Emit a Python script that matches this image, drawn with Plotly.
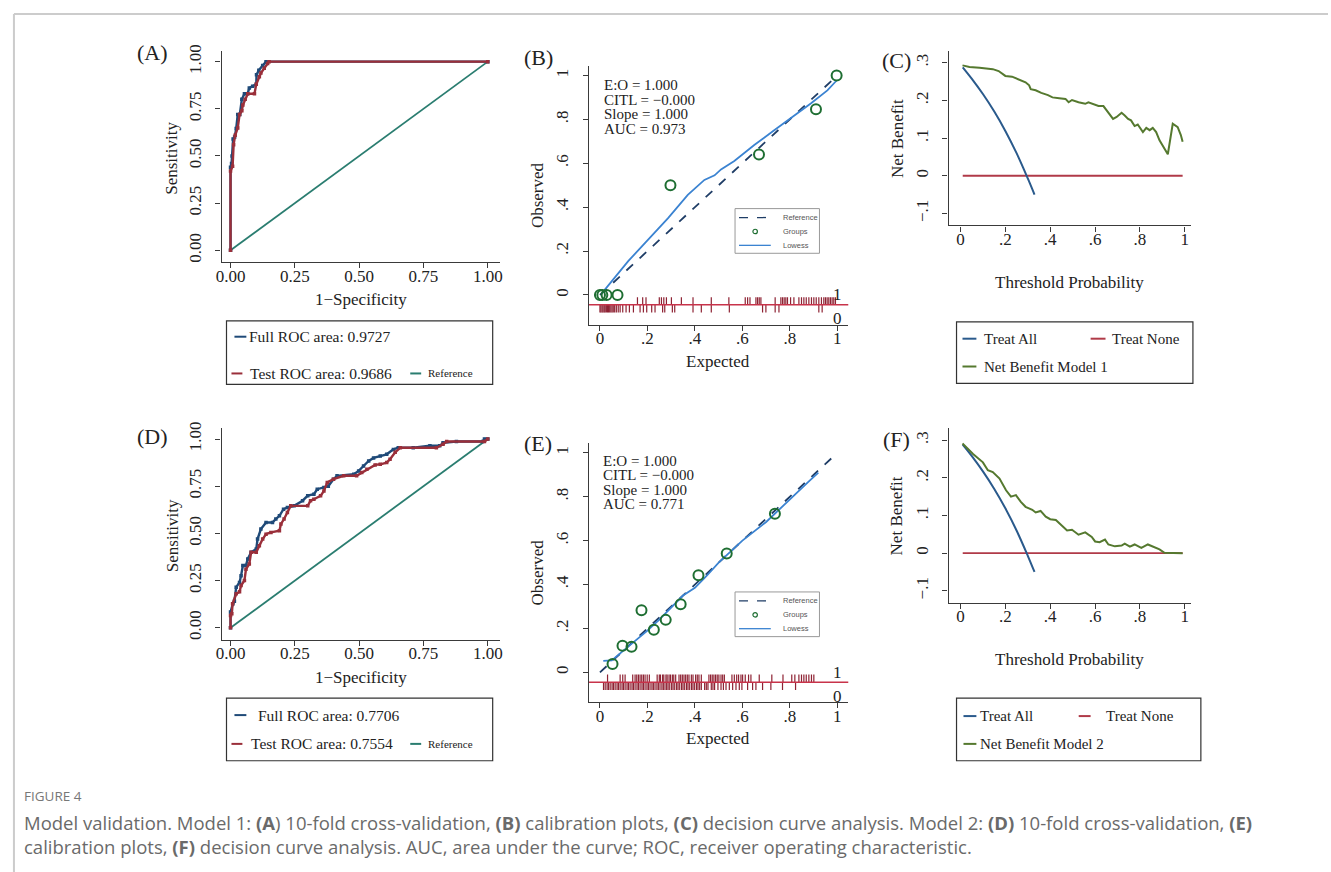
import plotly.graph_objects as go

W, H = 1331, 872
SERIF = "Liberation Serif, Times New Roman, serif"
SANS = "Liberation Sans, Arial, sans-serif"
AX = "#3a3a3a"

# ---------------- DATA ----------------
# (A) ROC model 1
roc1_full_fpr = [0, 0, 0.004, 0.006, 0.01, 0.016, 0.022, 0.028, 0.036, 0.044, 0.054, 0.066, 0.073, 0.086, 0.10, 0.101, 0.11, 0.125, 0.138, 1.0]
roc1_full_tpr = [0, 0.44, 0.46, 0.50, 0.59, 0.60, 0.645, 0.72, 0.72, 0.80, 0.83, 0.83, 0.86, 0.87, 0.88, 0.93, 0.955, 0.98, 1.0, 1.0]
roc1_test_fpr = [0, 0, 0.008, 0.012, 0.018, 0.028, 0.035, 0.044, 0.048, 0.057, 0.067, 0.093, 0.10, 0.112, 0.118, 0.131, 0.144, 0.15, 1.0]
roc1_test_tpr = [0, 0.42, 0.445, 0.56, 0.61, 0.648, 0.72, 0.74, 0.77, 0.80, 0.83, 0.83, 0.88, 0.92, 0.94, 0.965, 0.99, 1.0, 1.0]
# (D) ROC model 2
roc2_full_fpr = [0, 0, 0.009, 0.015, 0.022, 0.035, 0.041, 0.048, 0.06, 0.067, 0.08, 0.10, 0.105, 0.118, 0.138, 0.163, 0.176, 0.19, 0.206, 0.221, 0.247, 0.28, 0.30, 0.324, 0.337, 0.363, 0.38, 0.40, 0.414, 0.479, 0.498, 0.517, 0.537, 0.556, 0.582, 0.607, 0.633, 0.652, 0.71, 0.775, 0.813, 0.826, 0.878, 0.98, 0.987, 1.0]
roc2_full_tpr = [0, 0.083, 0.127, 0.14, 0.215, 0.24, 0.276, 0.33, 0.33, 0.364, 0.40, 0.417, 0.47, 0.523, 0.558, 0.558, 0.576, 0.593, 0.628, 0.637, 0.646, 0.673, 0.70, 0.708, 0.734, 0.743, 0.75, 0.787, 0.805, 0.813, 0.831, 0.857, 0.884, 0.90, 0.91, 0.919, 0.945, 0.954, 0.954, 0.964, 0.964, 0.98, 0.987, 0.987, 1.0, 1.0]
roc2_test_fpr = [0, 0, 0.005, 0.008, 0.022, 0.035, 0.041, 0.054, 0.06, 0.073, 0.08, 0.10, 0.112, 0.125, 0.138, 0.157, 0.19, 0.196, 0.208, 0.221, 0.234, 0.30, 0.311, 0.324, 0.35, 0.363, 0.376, 0.40, 0.44, 0.49, 0.51, 0.53, 0.562, 0.582, 0.607, 0.62, 0.64, 0.66, 0.80, 0.826, 0.84, 0.987, 1.0]
roc2_test_tpr = [0, 0.065, 0.074, 0.127, 0.18, 0.19, 0.224, 0.25, 0.31, 0.338, 0.40, 0.40, 0.435, 0.47, 0.496, 0.505, 0.514, 0.55, 0.576, 0.611, 0.646, 0.646, 0.673, 0.681, 0.699, 0.725, 0.77, 0.787, 0.805, 0.805, 0.822, 0.84, 0.863, 0.866, 0.875, 0.893, 0.93, 0.954, 0.954, 0.972, 0.987, 0.987, 1.0]
roc_ref = [0, 1]

# (B) calibration model 1
cal1_grp_x = [0.0, 0.01, 0.028, 0.074, 0.297, 0.67, 0.91, 0.997]
cal1_grp_y = [0.0, 0.0, 0.0, 0.0, 0.50, 0.64, 0.846, 1.0]
cal1_low_x = [0.007, 0.049, 0.119, 0.203, 0.287, 0.37, 0.44, 0.483, 0.51, 0.566, 0.65, 0.734, 0.804, 0.888, 0.958, 0.997]
cal1_low_y = [0.006, 0.063, 0.154, 0.252, 0.35, 0.456, 0.524, 0.545, 0.572, 0.610, 0.683, 0.750, 0.804, 0.872, 0.932, 0.977]
cal1_rug1 = [0.158, 0.180, 0.194, 0.250, 0.259, 0.269, 0.280, 0.301, 0.343, 0.392, 0.469, 0.543, 0.612, 0.622, 0.632, 0.657, 0.664, 0.671, 0.678, 0.738, 0.762, 0.769, 0.776, 0.783, 0.790, 0.803, 0.817, 0.838, 0.849, 0.859, 0.869, 0.880, 0.891, 0.901, 0.911, 0.922, 0.933, 0.943, 0.950, 0.957, 0.964, 0.971, 0.978, 0.985, 0.992]
cal1_rug0 = [0.0, 0.004, 0.009, 0.013, 0.018, 0.022, 0.027, 0.032, 0.036, 0.041, 0.046, 0.051, 0.056, 0.062, 0.069, 0.077, 0.085, 0.096, 0.110, 0.124, 0.141, 0.169, 0.183, 0.197, 0.218, 0.232, 0.264, 0.273, 0.305, 0.315, 0.392, 0.427, 0.469, 0.545, 0.685, 0.699, 0.738, 0.754, 0.922, 0.936]

# (E) calibration model 2
cal2_grp_x = [0.053, 0.095, 0.133, 0.175, 0.227, 0.277, 0.34, 0.415, 0.534, 0.737]
cal2_grp_y = [0.038, 0.121, 0.117, 0.283, 0.194, 0.239, 0.31, 0.442, 0.541, 0.723]
cal2_low_x = [0.014, 0.05, 0.10, 0.15, 0.20, 0.25, 0.30, 0.35, 0.40, 0.45, 0.50, 0.60, 0.70, 0.80, 0.88, 0.92]
cal2_low_y = [0.052, 0.054, 0.10, 0.145, 0.19, 0.24, 0.295, 0.35, 0.385, 0.44, 0.50, 0.60, 0.685, 0.79, 0.87, 0.91]
cal2_rug1 = [0.032, 0.085, 0.096, 0.106, 0.138, 0.148, 0.155, 0.162, 0.169, 0.176, 0.183, 0.190, 0.199, 0.208, 0.241, 0.250, 0.255, 0.264, 0.269, 0.278, 0.283, 0.291, 0.297, 0.305, 0.311, 0.319, 0.333, 0.340, 0.347, 0.354, 0.361, 0.368, 0.375, 0.385, 0.392, 0.403, 0.410, 0.417, 0.427, 0.459, 0.466, 0.473, 0.480, 0.487, 0.494, 0.501, 0.510, 0.517, 0.524, 0.556, 0.566, 0.576, 0.584, 0.594, 0.601, 0.612, 0.626, 0.636, 0.671, 0.724, 0.771, 0.808, 0.821, 0.838, 0.849, 0.859, 0.869, 0.880, 0.891, 0.901]
cal2_rug0 = [0.015, 0.022, 0.030, 0.036, 0.043, 0.051, 0.057, 0.064, 0.072, 0.078, 0.085, 0.093, 0.099, 0.106, 0.114, 0.120, 0.127, 0.135, 0.141, 0.148, 0.156, 0.162, 0.169, 0.177, 0.183, 0.190, 0.198, 0.204, 0.211, 0.219, 0.225, 0.232, 0.240, 0.246, 0.253, 0.261, 0.267, 0.274, 0.281, 0.287, 0.294, 0.302, 0.308, 0.315, 0.323, 0.329, 0.336, 0.344, 0.350, 0.357, 0.365, 0.371, 0.378, 0.386, 0.392, 0.399, 0.407, 0.413, 0.420, 0.427, 0.441, 0.448, 0.455, 0.469, 0.476, 0.483, 0.497, 0.510, 0.520, 0.531, 0.545, 0.559, 0.573, 0.587, 0.598, 0.622, 0.643, 0.657, 0.685, 0.720, 0.769, 0.824]

# (C)/(F) decision curves
dca_all_x = [0.01, 0.05, 0.10, 0.15, 0.20, 0.25, 0.30, 0.33]
dca_all_y = [0.288, 0.258, 0.217, 0.171, 0.119, 0.060, -0.007, -0.050]
dca_none_x = [0.01, 0.99]
dca_none_y = [0.0, 0.0]
nb1_x = [0.009, 0.04, 0.085, 0.144, 0.17, 0.20, 0.23, 0.26, 0.29, 0.306, 0.313, 0.335, 0.36, 0.39, 0.41, 0.44, 0.468, 0.482, 0.497, 0.526, 0.556, 0.57, 0.585, 0.615, 0.637, 0.659, 0.68, 0.696, 0.718, 0.732, 0.747, 0.76, 0.776, 0.79, 0.813, 0.828, 0.843, 0.857, 0.872, 0.887, 0.90, 0.924, 0.946, 0.968, 0.982, 0.99]
nb1_y = [0.293, 0.289, 0.287, 0.283, 0.278, 0.265, 0.263, 0.256, 0.248, 0.240, 0.230, 0.227, 0.220, 0.214, 0.208, 0.206, 0.204, 0.195, 0.201, 0.195, 0.191, 0.195, 0.191, 0.185, 0.185, 0.169, 0.151, 0.156, 0.167, 0.160, 0.151, 0.147, 0.132, 0.136, 0.116, 0.127, 0.121, 0.127, 0.116, 0.094, 0.081, 0.057, 0.138, 0.129, 0.108, 0.090]
nb2_x = [0.009, 0.056, 0.10, 0.122, 0.144, 0.174, 0.203, 0.225, 0.247, 0.269, 0.29, 0.32, 0.335, 0.357, 0.38, 0.40, 0.425, 0.45, 0.475, 0.497, 0.526, 0.556, 0.585, 0.60, 0.62, 0.644, 0.659, 0.688, 0.718, 0.732, 0.755, 0.776, 0.806, 0.835, 0.857, 0.887, 0.909, 0.99]
nb2_y = [0.291, 0.263, 0.241, 0.220, 0.215, 0.198, 0.167, 0.150, 0.154, 0.136, 0.123, 0.115, 0.108, 0.112, 0.097, 0.090, 0.088, 0.075, 0.060, 0.062, 0.049, 0.055, 0.043, 0.031, 0.029, 0.036, 0.023, 0.018, 0.020, 0.025, 0.017, 0.023, 0.014, 0.023, 0.018, 0.010, 0.001, 0.0]

roc_ticks = [0, 0.25, 0.5, 0.75, 1.0]
roc_ticktext = ["0.00", "0.25", "0.50", "0.75", "1.00"]
cal_ticks = [0, 0.2, 0.4, 0.6, 0.8, 1.0]
cal_ticktext = ["0", ".2", ".4", ".6", ".8", "1"]
dca_yticks = [-0.1, 0, 0.1, 0.2, 0.3]
dca_yticktext = ["\u2212.1", "0", ".1", ".2", ".3"]

# ---------------- COLOURS ----------------
C_NAVY = "#1f4a78"
C_MAROON = "#9a2f3a"
C_TEAL = "#2a7d70"
C_GREEN = "#55792f"
C_CIRC = "#1e6e32"
C_LOW = "#3b83d1"
C_REF = "#1f3d66"
C_RUG = "#8e2233"
C_RUGLINE = "#c8334a"
C_DCA_ALL = "#2a5a8c"
C_DCA_NONE = "#b03a48"


def fx(px):
    return px / W


def fy(py):
    return 1 - py / H


def xaxis(px0, px1, rng, tv, tt, anchor):
    return dict(domain=[fx(px0), fx(px1)], range=rng, tickvals=tv, ticktext=tt,
                showline=True, linecolor=AX, linewidth=1.3, ticks="outside", ticklen=5,
                tickwidth=1.3, tickcolor=AX, showgrid=False, zeroline=False, anchor=anchor,
                ticklabelstandoff=-7,
                tickfont=dict(family=SERIF, size=17, color="#222"), fixedrange=True)


def yaxis(py_top, py_bot, rng, tv, tt, anchor):
    return dict(domain=[fy(py_bot), fy(py_top)], range=rng, tickvals=tv, ticktext=tt,
                showline=True, linecolor=AX, linewidth=1.3, ticks="outside", ticklen=5,
                tickwidth=1.3, tickcolor=AX, showgrid=False, zeroline=False, anchor=anchor,
                tickangle=-90, ticklabelstandoff=8,
                tickfont=dict(family=SERIF, size=17, color="#222"), fixedrange=True)


fig = go.Figure()


def add(x, y, n, **kw):
    ax = "" if n == 1 else str(n)
    fig.add_trace(go.Scatter(x=x, y=y, xaxis="x" + ax, yaxis="y" + ax, showlegend=False,
                             hoverinfo="skip", **kw))


# ROC panels (1 = A, 4 = D)
for n, ff, ft, tf, tt in [(1, roc1_full_fpr, roc1_full_tpr, roc1_test_fpr, roc1_test_tpr),
                          (4, roc2_full_fpr, roc2_full_tpr, roc2_test_fpr, roc2_test_tpr)]:
    add(roc_ref, roc_ref, n, mode="lines", line=dict(color=C_TEAL, width=1.8))
    add(ff, ft, n, mode="lines+markers", line=dict(color=C_NAVY, width=2.4),
        marker=dict(size=3.5, symbol="square", color=C_NAVY))
    add(tf, tt, n, mode="lines+markers", line=dict(color=C_MAROON, width=2.4),
        marker=dict(size=3.5, symbol="square", color=C_MAROON))

# Calibration panels (2 = B, 5 = E)
RUG_Y = -0.045
RUG_H = 0.035


def segs(xs, y0, y1):
    X, Y = [], []
    for v in xs:
        X += [v, v, None]
        Y += [y0, y1, None]
    return X, Y


for n, gx, gy, lx, ly, r1, r0 in [(2, cal1_grp_x, cal1_grp_y, cal1_low_x, cal1_low_y, cal1_rug1, cal1_rug0),
                                   (5, cal2_grp_x, cal2_grp_y, cal2_low_x, cal2_low_y, cal2_rug1, cal2_rug0)]:
    X1, Y1 = segs(r1, RUG_Y, RUG_Y + RUG_H)
    X0, Y0 = segs(r0, RUG_Y - RUG_H, RUG_Y)
    add(X1, Y1, n, mode="lines", line=dict(color=C_RUG, width=1.2))
    add(X0, Y0, n, mode="lines", line=dict(color=C_RUG, width=1.2))
    add(cal_ticks[:1] + cal_ticks[-1:], cal_ticks[:1] + cal_ticks[-1:], n, mode="lines",
        line=dict(color=C_REF, width=1.8, dash="dash"))
    add(lx, ly, n, mode="lines", line=dict(color=C_LOW, width=1.8))
    add(gx, gy, n, mode="markers", marker=dict(symbol="circle-open", size=10, color=C_CIRC,
                                               line=dict(width=2, color=C_CIRC)), cliponaxis=False)

# DCA panels (3 = C, 6 = F)
for n, nx, ny in [(3, nb1_x, nb1_y), (6, nb2_x, nb2_y)]:
    add(dca_none_x, dca_none_y, n, mode="lines", line=dict(color=C_DCA_NONE, width=1.8))
    add(dca_all_x, dca_all_y, n, mode="lines", line=dict(color=C_DCA_ALL, width=2), line_shape="spline")
    add(nx, ny, n, mode="lines", line=dict(color=C_GREEN, width=2))

layout = dict(width=W, height=H, margin=dict(l=0, r=0, t=0, b=0),
              paper_bgcolor="white", plot_bgcolor="white", showlegend=False)

# axes
layout["xaxis"] = xaxis(217, 497, [-0.035, 1.046], roc_ticks, roc_ticktext, "y")
layout["yaxis"] = yaxis(45, 258, [-0.063, 1.058], roc_ticks, roc_ticktext, "x")
layout["xaxis4"] = xaxis(217, 497, [-0.035, 1.046], roc_ticks, roc_ticktext, "y4")
layout["yaxis4"] = yaxis(425, 638, [-0.063, 1.058], roc_ticks, roc_ticktext, "x4")
layout["xaxis2"] = xaxis(587, 848, [-0.046, 1.046], cal_ticks, cal_ticktext, "y2")
layout["yaxis2"] = yaxis(60, 321, [-0.136, 1.045], cal_ticks, cal_ticktext, "x2")
layout["xaxis5"] = xaxis(587, 848, [-0.046, 1.046], cal_ticks, cal_ticktext, "y5")
layout["yaxis5"] = yaxis(440, 701, [-0.136, 1.045], cal_ticks, cal_ticktext, "x5")
layout["xaxis3"] = xaxis(949, 1193, [-0.053, 1.027], cal_ticks, cal_ticktext, "y3")
layout["yaxis3"] = yaxis(45, 221, [-0.132, 0.332], dca_yticks, dca_yticktext, "x3")
layout["xaxis6"] = xaxis(949, 1193, [-0.053, 1.027], cal_ticks, cal_ticktext, "y6")
layout["yaxis6"] = yaxis(425, 601, [-0.132, 0.332], dca_yticks, dca_yticktext, "x6")

ann = []
shapes = []


def text(px, py, s, size=17, family=SERIF, color="#222", xanchor="center", angle=0, **kw):
    ann.append(dict(x=fx(px), y=fy(py), xref="paper", yref="paper", text=s, showarrow=False,
                    xanchor=xanchor, yanchor="middle", textangle=angle,
                    font=dict(family=family, size=size, color=color), **kw))


def hline(px0, px1, py, color, width=2, dash=None):
    shapes.append(dict(type="line", xref="paper", yref="paper", x0=fx(px0), x1=fx(px1),
                       y0=fy(py), y1=fy(py), line=dict(color=color, width=width, dash=dash)))


def box(px0, py0, px1, py1, color="#333", width=1.2):
    shapes.append(dict(type="rect", xref="paper", yref="paper", x0=fx(px0), x1=fx(px1),
                       y0=fy(py1), y1=fy(py0), line=dict(color=color, width=width)))


# page frame
shapes.append(dict(type="line", xref="paper", yref="paper", x0=fx(8), x1=1, y0=fy(8), y1=fy(8),
                   line=dict(color="#cccccc", width=2)))
shapes.append(dict(type="line", xref="paper", yref="paper", x0=fx(8), x1=fx(8), y0=fy(8), y1=0,
                   line=dict(color="#cccccc", width=2)))

# panel labels
for lab, px, py in [("(A)", 147, 47), ("(B)", 536, 52), ("(C)", 897, 55),
                    ("(D)", 147, 433), ("(E)", 536, 441), ("(F)", 897, 437)]:
    text(px, py, lab, size=22)

# axis titles
for dy in (0, 380):
    text(167, 153 + dy, "Sensitivity", angle=-90)
    text(357, 296 + dy, "1\u2212Specificity")
    text(535, 190 + dy, "Observed", angle=-90)
    text(717, 358 + dy, "Expected")
    text(897, 133 + dy, "Net Benefit", angle=-90)
    text(1071, 278 + dy, "Threshold Probability")

# rug lines and 0/1 labels
for n in (2, 5):
    shapes.append(dict(type="line", xref=f"x{n} domain", yref=f"y{n}", x0=0, x1=1, y0=RUG_Y, y1=RUG_Y,
                       line=dict(color=C_RUGLINE, width=1.6)))
    ann.append(dict(x=1.0, y=0.0, xref=f"x{n}", yref=f"y{n}", text="1", showarrow=False,
                    font=dict(family=SERIF, size=17, color="#222")))
    ann.append(dict(x=1.0, y=-0.108, xref=f"x{n}", yref=f"y{n}", text="0", showarrow=False,
                    font=dict(family=SERIF, size=17, color="#222")))

# calibration stats text
for (x0, ys, auc) in [(600, (80, 95, 109, 124), "0.973"), (599, (458, 472, 487, 501), "0.771")]:
    for s, yy in zip(["E:O = 1.000", "CITL = \u22120.000", "Slope = 1.000", "AUC = " + auc], ys):
        text(x0, yy, s, size=15, xanchor="left")

# calibration inner legends
for dy in (0, 386):
    box(734, 204 + dy, 819, 249 + dy, color="#999", width=1)
    hline(738, 770, 213 + dy, C_REF, width=1.3, dash="dash")
    shapes.append(dict(type="circle", xref="paper", yref="paper", x0=fx(752), x1=fx(756.5),
                       y0=fy(229.3 + dy), y1=fy(224.8 + dy), line=dict(color=C_CIRC, width=1.2)))
    hline(738, 770, 241 + dy, C_LOW, width=1.3)
    text(780, 213 + dy, "Reference", size=7.5, family=SANS, color="#555", xanchor="left")
    text(780, 227 + dy, "Groups", size=7.5, family=SANS, color="#555", xanchor="left")
    text(780, 241 + dy, "Lowess", size=7.5, family=SANS, color="#555", xanchor="left")

# ROC legends
box(222, 317, 490, 381)
hline(230, 242, 333, C_NAVY)
text(243, 333, "Full ROC area: 0.9727", size=15.5, xanchor="left")
hline(227, 238, 370, C_MAROON)
text(244, 370, "Test ROC area: 0.9686", size=15.5, xanchor="left")
hline(407, 418, 370, C_TEAL)
text(423, 370, "Reference", size=11, xanchor="left")

box(222, 697, 490, 760)
hline(230, 242, 714, C_NAVY)
text(252, 714, "Full ROC area: 0.7706", size=15.5, xanchor="left")
hline(227, 238, 743, C_MAROON)
text(245, 743, "Test ROC area: 0.7554", size=15.5, xanchor="left")
hline(407, 418, 743, C_TEAL)
text(423, 743, "Reference", size=11, xanchor="left")

# DCA legends
box(957, 318, 1195, 380)
hline(963, 977, 335, C_DCA_ALL)
text(983, 335, "Treat All", size=15, xanchor="left")
hline(1092, 1107, 335, C_DCA_NONE)
text(1112, 335, "Treat None", size=15, xanchor="left")
hline(963, 977, 363, C_GREEN)
text(983, 363, "Net Benefit Model 1", size=15, xanchor="left")

box(957, 697, 1203, 760)
hline(964, 977, 715, C_DCA_ALL)
text(979, 715, "Treat All", size=15, xanchor="left")
hline(1080, 1092, 715, C_DCA_NONE)
text(1105, 715, "Treat None", size=15, xanchor="left")
hline(964, 977, 743, C_GREEN)
text(979, 743, "Net Benefit Model 2", size=15, xanchor="left")

# caption
CAP = "Open Sans, Noto Sans, sans-serif"
text(16, 795, "FIGURE 4", size=13.5, family=CAP, color="#777", xanchor="left")
text(16, 834, "Model validation. Model 1: <b>(A</b>) 10-fold cross-validation, <b>(B)</b> calibration plots, "
              "<b>(C)</b> decision curve analysis. Model 2: <b>(D)</b> 10-fold cross-validation, <b>(E)</b>"
              "<br>calibration plots, <b>(F)</b> decision curve analysis. AUC, area under the curve; ROC, "
              "receiver operating characteristic.", size=18.5, family=CAP, color="#6a6a6a", xanchor="left",
     align="left")

layout["annotations"] = ann
layout["shapes"] = shapes
fig.update_layout(**layout)
fig.write_html("out.html", config={"displayModeBar": False},
               post_script="document.body.style.margin='0';document.body.style.overflow='hidden';")
